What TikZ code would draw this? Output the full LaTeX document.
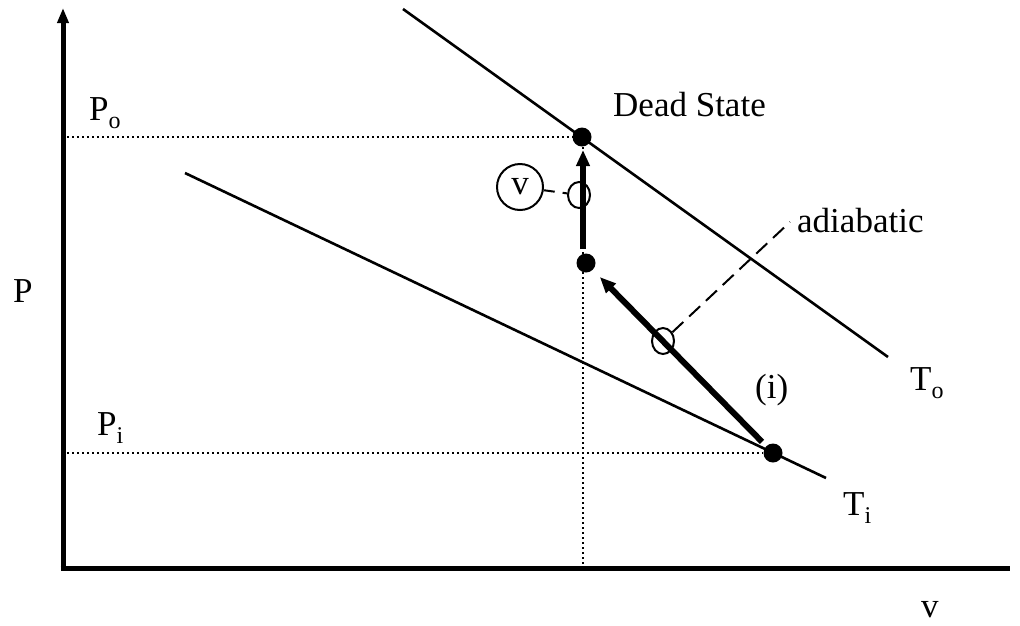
\documentclass[tikz,border=0pt]{standalone}
\usepackage{fontspec}
\setmainfont{Liberation Serif}
\usetikzlibrary{arrows.meta,shapes.geometric}
\newcommand{\lowsub}[1]{\raisebox{-8pt}{\fontsize{24}{24}\selectfont #1}}
\begin{document}
\begin{tikzpicture}[x=1pt,y=-1pt,
  every node/.style={font=\fontsize{35}{40}\selectfont},
  axis/.style={line width=5pt},
  iso/.style={line width=2.6pt},
  guide/.style={line width=2pt, dash pattern=on 2pt off 3pt},
  proc/.style={line width=6pt, -{Triangle[length=16pt,width=13pt]}},
  dot/.style={circle, fill=black, inner sep=0pt, minimum size=19pt},
  tag/.style={draw, ellipse, line width=2pt, inner sep=0pt, minimum width=22pt, minimum height=26pt},
  lbl/.style={inner sep=0pt, anchor=base west}]
\useasboundingbox (0,0) rectangle (1020,625);
% axes
\coordinate (O) at (63,568);
\coordinate (Ox) at (60.5,568);
\coordinate (ytop) at (63,8);
\coordinate (xend) at (1010,568);
\draw[axis, -{Triangle[length=15pt,width=11pt]}] (O) -- (ytop);
\draw[axis] (Ox) -- (xend);
% isotherms
\coordinate (To1) at (403,9);
\coordinate (To2) at (888,357);
\coordinate (Ti1) at (185,173);
\coordinate (Ti2) at (826,478);
\draw[iso] (To1) -- (To2);
\draw[iso] (Ti1) -- (Ti2);
% states
\node[dot] (ds) at (582,137) {};
\node[dot] (ld) at (586,263) {};
\node[dot] (d1) at (773,453) {};
% guides
\coordinate (po) at (67,137);
\coordinate (pi) at (67,453);
\coordinate (vb) at (583,565);
\coordinate (vt) at (583,137);
\draw[guide] (po) -- (ds);
\draw[guide] (pi) -- (d1);
\draw[guide] (vt) -- (vb);
% processes
\coordinate (va0) at (583,249);
\coordinate (va1) at (583,150);
\draw[proc] (va0) -- (va1);
\draw[proc, shorten <=6pt, shorten >=10pt] (d1) -- (ld);
% markers
\node[tag] (e1) at (579,195) {};
\node[tag] (e2) at (663,341) {};
\node[circle, draw, line width=2pt, minimum size=46pt, inner sep=0pt] (vc) at (520,187) {v};
\draw[line width=2pt, dash pattern=on 11pt off 8pt] (vc) -- (e1);
\coordinate (ae) at (790,222);
\draw[line width=2pt, dash pattern=on 15pt off 8pt] (e2) -- (ae);
% labels
\node[lbl] (dead) at (613,116) {Dead State};
\node[lbl] (adi) at (797,232) {adiabatic};
\node[lbl] (Po) at (89,120) {P\lowsub{o}};
\node[lbl] (Pi) at (97,435) {P\lowsub{i}};
\node[lbl] (P) at (13,302) {P};
\node[lbl] (v) at (921,617) {v};
\node[lbl] (ii) at (755,398) {(i)};
\node[lbl] (To) at (910,390) {T\lowsub{o}};
\node[lbl] (Ti) at (843,515) {T\lowsub{i}};
\end{tikzpicture}
\end{document}
